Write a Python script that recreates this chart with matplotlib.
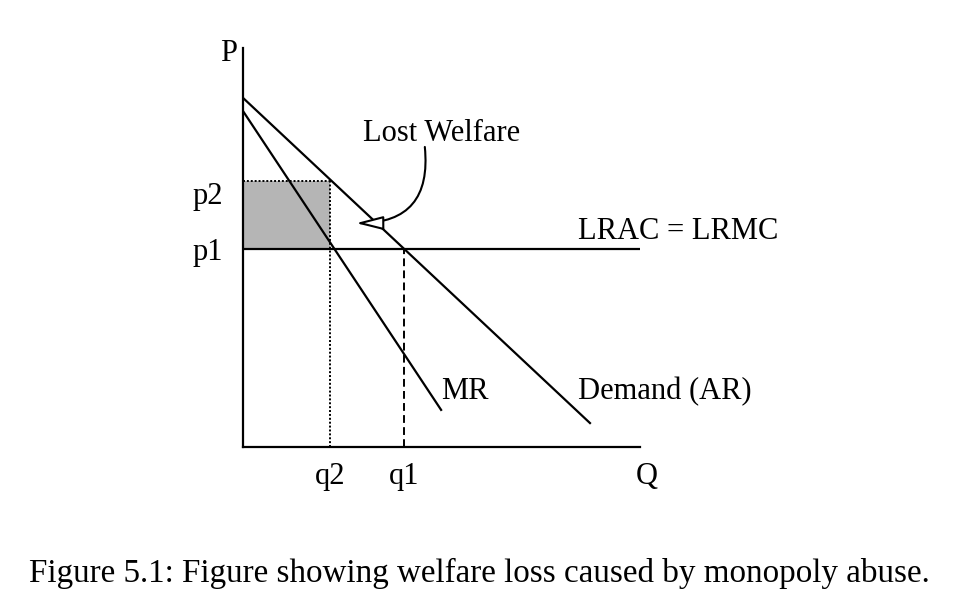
import matplotlib
matplotlib.use("Agg")
import matplotlib.pyplot as plt

plt.rcParams["font.family"] = ["Liberation Serif", "DejaVu Serif"]

# ---------------------------------------------------------------------------
# Data (axis units 0..10)
# ---------------------------------------------------------------------------
demand_q = [0.0, 8.74]
demand_p = [8.75, 0.60]
mr_q = [0.0, 4.99]
mr_p = [8.42, 0.93]
lrac_q = [0.0, 10.0]
p1, p2 = 4.95, 6.67
q1, q2 = 4.05, 2.19

arrow_start = (4.58, 7.52)
arrow_end = (2.85, 5.61)

LABELS = {
    "p1": "p1", "p2": "p2", "q1": "q1", "q2": "q2",
    "P": "P", "Q": "Q",
    "mr": "MR", "demand": "Demand (AR)", "lrac": "LRAC = LRMC",
    "lost": "Lost Welfare",
}
CAPTION = "Figure 5.1: Figure showing welfare loss caused by monopoly abuse."

W, H = 967, 610
fig = plt.figure(figsize=(W / 100, H / 100), dpi=100)
ax = fig.add_axes([243 / W, (H - 447) / H, (640 - 243) / W, (447 - 48) / H])
ax.set_xlim(0, 10)
ax.set_ylim(0, 10)
ax.set_xticks([])
ax.set_yticks([])
for s in ("top", "right"):
    ax.spines[s].set_visible(False)
for s in ("left", "bottom"):
    ax.spines[s].set_linewidth(1.6)
ax.patch.set_alpha(0)

LW = 1.6
FS = 22

# shaded monopoly rectangle
ax.fill_between([0, q2], p1, p2, color="#b5b5b5", lw=0, zorder=1)
ax.plot([0, q2], [p2, p2], color="black", lw=1.4, ls=(0, (1, 1)), zorder=2)
ax.plot([q2, q2], [0, p2], color="black", lw=1.4, ls=(0, (1, 1)), zorder=2)
ax.plot([q1, q1], [0, p1], color="black", lw=1.4, ls=(0, (4, 2.2)), zorder=2)

# curves
ax.plot(lrac_q, [p1, p1], color="black", lw=LW, zorder=3)
ax.plot(demand_q, demand_p, color="black", lw=LW, zorder=3)
ax.plot(mr_q, mr_p, color="black", lw=LW, zorder=3)

# curved arrow to the lost welfare triangle
ax.annotate("", xy=arrow_end, xytext=arrow_start,
            arrowprops=dict(arrowstyle="-|>,head_length=1.1,head_width=0.28",
                            connectionstyle="arc3,rad=-0.55",
                            fc="white", ec="black", lw=1.5,
                            shrinkA=0, shrinkB=0, mutation_scale=15),
            zorder=4)


def label(text, xy, off, ha="left"):
    ax.annotate(text, xy=xy, xytext=off, textcoords="offset pixels",
                ha=ha, va="baseline", fontsize=FS, annotation_clip=False)


label(LABELS["P"], (0, 10), (-23, -13))
label(LABELS["Q"], (10, 0), (-4, -37))
label(LABELS["p2"], (0, p2), (-50, -23))
label(LABELS["p1"], (0, p1), (-50, -11))
label(LABELS["q2"], (q2, 0), (0, -37), ha="center")
label(LABELS["q1"], (q1, 0), (0, -37), ha="center")
label(LABELS["lost"], arrow_start, (-62, 6))
label(LABELS["lrac"], (lrac_q[1], p1), (-62, 10))
label(LABELS["mr"], (mr_q[1], mr_p[1]), (0, 11))
label(LABELS["demand"], (demand_q[1], demand_p[1]), (-12, 24))

fig.text(29 / W, (H - 582) / H, CAPTION, fontsize=23.9, ha="left", va="baseline")

fig.savefig("out.png", dpi=100, facecolor="white")
